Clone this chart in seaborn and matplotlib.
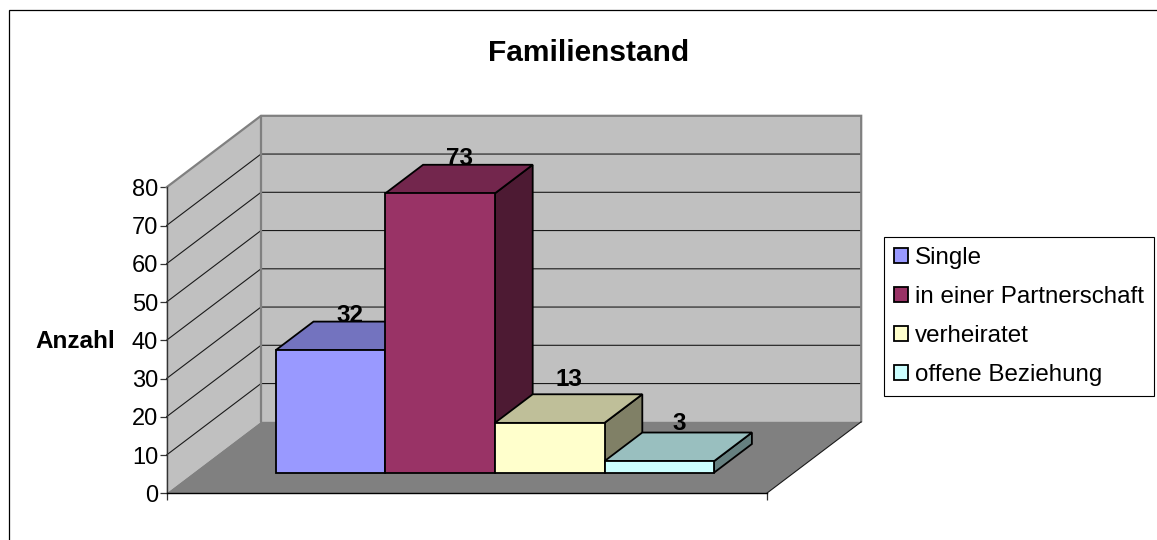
"""Familienstand -- Excel style 3D column chart, rebuilt on flat seaborn bars."""
import matplotlib
matplotlib.use("Agg")
import matplotlib.pyplot as plt
from matplotlib.colors import to_rgb
from matplotlib.lines import Line2D
from matplotlib.patches import Polygon
import pandas as pd
import seaborn as sns

categories = ["Single", "in einer Partnerschaft", "verheiratet", "offene Beziehung"]
counts = [32, 73, 13, 3]
colors = ["#9999FF", "#993366", "#FFFFCC", "#CCFFFF"]
y_ticks = list(range(0, 81, 10))

W, H = 1157, 540
# front plane of the box, in pixels
LEFT, RIGHT, BASE, TOP = 166.5, 766.7, 493.3, 187.3
# full depth of the box and where the bars sit in it, in pixels
DEPTH_X, DEPTH_Y = 94.5, 71.5
BAR_SHIFT_X, BAR_SHIFT_Y = 28.3, 20.7
BAR_W = 109.6
# Excel did not place its data labels evenly, pixels above the default spot
LABEL_LIFT = [-4, -4, 5, -1]

sns.set_style("white")
plt.rcParams["font.family"] = ["Liberation Sans", "DejaVu Sans"]
plt.rcParams["text.color"] = "black"

df = pd.DataFrame({"status": categories, "count": counts})

fig = plt.figure(figsize=(W / 100, H / 100), dpi=100)


def px_rect(x0, x1, y_base, y_top):
    return [x0 / W, 1 - y_base / H, (x1 - x0) / W, (y_base - y_top) / H]


ax = fig.add_axes(px_rect(LEFT, RIGHT, BASE, TOP))
bars = fig.add_axes(px_rect(LEFT + BAR_SHIFT_X, RIGHT + BAR_SHIFT_X,
                            BASE - BAR_SHIFT_Y, TOP - BAR_SHIFT_Y))
ax.patch.set_alpha(0)

# four bars of width 1 centred in the floor
x_min = 1.5 - (RIGHT - LEFT) / BAR_W / 2
x_max = 1.5 + (RIGHT - LEFT) / BAR_W / 2
unit_y = (BASE - TOP) / 80
dx, dy = DEPTH_X / BAR_W, DEPTH_Y / unit_y
bar_dx, bar_dy = 0.4 * dx, 0.4 * dy

ax.set_xlim(x_min, x_max)
ax.set_ylim(0, 80)

# walls and floor
ax.add_patch(Polygon([(x_min, 0), (x_min + dx, dy), (x_min + dx, 80 + dy), (x_min, 80)],
                     fc="#C0C0C0", ec="none", clip_on=False, zorder=0))
ax.add_patch(Polygon([(x_min + dx, dy), (x_max + dx, dy), (x_max + dx, 80 + dy), (x_min + dx, 80 + dy)],
                     fc="#C0C0C0", ec="none", clip_on=False, zorder=0))
ax.add_patch(Polygon([(x_min, 0), (x_max, 0), (x_max + dx, dy), (x_min + dx, dy)],
                     fc="#808080", ec="none", clip_on=False, zorder=0))

for v in y_ticks[1:-1]:
    ax.plot([x_min, x_min + dx, x_max + dx], [v, v + dy, v + dy],
            color="#1a1a1a", lw=0.8, clip_on=False, zorder=1)

# grey outline of the walls
ax.plot([x_min, x_min + dx, x_max + dx, x_max + dx], [80, 80 + dy, 80 + dy, dy],
        color="#808080", lw=1.6, clip_on=False, zorder=1, solid_joinstyle="miter")
ax.plot([x_min + dx, x_min + dx], [dy, 80 + dy], color="#808080", lw=1.6, clip_on=False, zorder=1)
ax.plot([x_max, x_max + dx], [0, dy], color="#1a1a1a", lw=0.8, clip_on=False, zorder=1)

ax.set_yticks(y_ticks)
ax.set_xticks([x_min, x_max])
ax.set_xticklabels([])
ax.tick_params(axis="both", direction="out", length=5, width=0.9, color="#333333",
               left=True, bottom=True, labelsize=17, pad=1, labelcolor="black")
sns.despine(ax=ax)
ax.spines["left"].set_color("#333333")
ax.spines["bottom"].set_color("black")
ax.spines["left"].set_linewidth(1.0)
ax.spines["bottom"].set_linewidth(1.0)
ax.set_ylabel("Anzahl", rotation=0, fontsize=17.5, fontweight="bold", color="black",
              ha="center", va="center")
ax.yaxis.set_label_coords((75 - LEFT) / (RIGHT - LEFT), (BASE - 341) / (BASE - TOP))

# flat front faces come from seaborn, the 3D faces are built on top of them
sns.barplot(data=df, x="status", y="count", hue="status", order=categories,
            hue_order=categories, palette=colors, dodge=False, width=1,
            saturation=1, edgecolor="black", linewidth=1.3, legend=False, ax=bars)
bars.set_xlim(x_min, x_max)
bars.set_ylim(0, 80)
bars.set_axis_off()


def shade(color, f):
    return tuple(c * f for c in to_rgb(color))


for i, (cont, col, n) in enumerate(zip(bars.containers, colors, counts)):
    r = cont[0]
    x0, x1 = r.get_x(), r.get_x() + r.get_width()
    side = Polygon([(x1, 0), (x1 + bar_dx, bar_dy), (x1 + bar_dx, n + bar_dy), (x1, n)],
                   fc=shade(col, 0.5), ec="black", lw=1.3, clip_on=False, zorder=3 * i + 2)
    top = Polygon([(x0, n), (x1, n), (x1 + bar_dx, n + bar_dy), (x0 + bar_dx, n + bar_dy)],
                  fc=shade(col, 0.75), ec="black", lw=1.3, clip_on=False, zorder=3 * i + 3)
    bars.add_patch(side)
    bars.add_patch(top)
    r.set_zorder(3 * i + 4)
    r.set_clip_on(False)
    bars.text((x0 + x1 + bar_dx) / 2 + 0.005, n + bar_dy - 0.4 + LABEL_LIFT[i] / unit_y, str(n),
              ha="center", va="bottom", fontsize=17.5, fontweight="bold", color="black",
              zorder=40, clip_on=False)

leg = bars.legend(handles=[c[0] for c in bars.containers], labels=categories,
                  loc="upper left", bbox_to_anchor=(884 / W, 1 - 236.7 / H),
                  bbox_transform=fig.transFigure, frameon=True, fancybox=False,
                  framealpha=1, edgecolor="black", fontsize=17.4, borderaxespad=0,
                  handlelength=0.58, handleheight=0.58, handletextpad=0.28,
                  labelspacing=0.7, borderpad=0.42, labelcolor="black")
leg.get_frame().set_linewidth(0.8)
leg.set_zorder(50)

fig.text(589 / W, 1 - 53 / H, "Familienstand", ha="center", va="center",
         fontsize=21.5, fontweight="bold", color="black")

# chart frame: only the top and left edges fall inside the picture
fig.add_artist(Line2D([9 / W, 9 / W, 1], [0, 1 - 10 / H, 1 - 10 / H],
                      color="black", lw=0.9, solid_joinstyle="miter"))

fig.savefig("out.png", dpi=100)
